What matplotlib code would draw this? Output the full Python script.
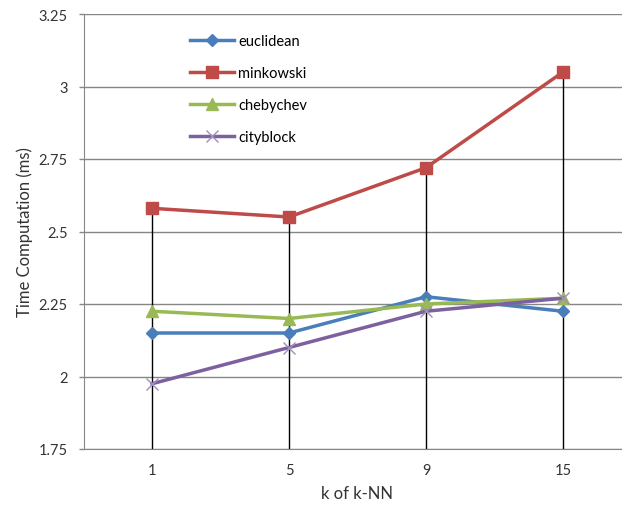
import matplotlib
matplotlib.use("Agg")
import matplotlib.pyplot as plt

categories = ["1", "5", "9", "15"]
euclidean = [2.15, 2.15, 2.275, 2.225]
minkowski = [2.58, 2.55, 2.72, 3.05]
chebychev = [2.225, 2.20, 2.25, 2.27]
cityblock = [1.975, 2.10, 2.225, 2.27]
yticks = [1.75, 2.0, 2.25, 2.5, 2.75, 3.0, 3.25]
ytick_labels = ["1.75", "2", "2.25", "2.5", "2.75", "3", "3.25"]

plt.rcParams['font.family'] = ['Lato', 'DejaVu Sans']

fig = plt.figure(figsize=(6.22, 5.10), dpi=100)
ax = fig.add_axes([83.5/622, 60/510, 548/622, 435/510])
x = list(range(len(categories)))

# drop lines
tops = [max(v) for v in zip(euclidean, minkowski, chebychev, cityblock)]
ax.vlines(x, 1.75, tops, color='black', lw=1.0, zorder=2)

ax.plot(x, euclidean, color='#4A7EBB', lw=2.5, marker='D', ms=6, label='euclidean', zorder=3)
ax.plot(x, minkowski, color='#BE4B48', lw=2.5, marker='s', ms=8, label='minkowski', zorder=3)
ax.plot(x, chebychev, color='#98B954', lw=2.5, marker='^', ms=8, label='chebychev', zorder=3)
ax.plot(x, cityblock, color='#7D60A0', lw=2.5, marker='x', ms=9, mew=1.0, mec='#A090B8', label='cityblock', zorder=3)

ax.set_xlim(-0.5, 3.5)
ax.set_ylim(1.75, 3.25)
ax.set_yticks(yticks)
ax.set_yticklabels(ytick_labels)
ax.set_xticks(x)
ax.set_xticklabels(categories)
ax.yaxis.grid(True, color='#868686', lw=1.0)
ax.set_axisbelow(True)
for s in ['top', 'right']:
    ax.spines[s].set_visible(False)
ax.spines['left'].set_color('#868686')
ax.spines['bottom'].set_color('#868686')
ax.tick_params(axis='both', labelsize=10.5, labelcolor='#333333')
ax.tick_params(axis='y', length=3.5, width=1.0, color='#868686', pad=8)
ax.tick_params(axis='x', length=0, pad=10)
ax.set_xlabel('k of k-NN', fontsize=12, color='#333333', labelpad=6)
ax.set_ylabel('Time Computation (ms)', fontsize=12, color='#333333', labelpad=4)

leg = ax.legend(loc='upper left', bbox_to_anchor=(0.17, 0.985), frameon=False,
                fontsize=10.5, handlelength=3.0, handletextpad=0.3, labelspacing=1.25)

fig.savefig('out.png', dpi=100)
